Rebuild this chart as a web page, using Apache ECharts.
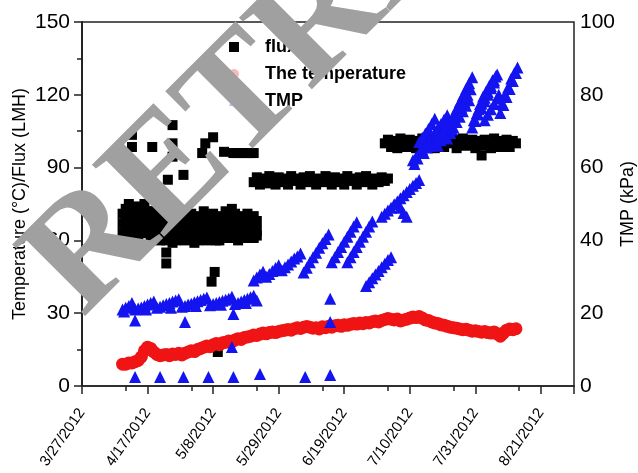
<!DOCTYPE html>
<html>
<head>
<meta charset="utf-8">
<script src="https://cdn.jsdelivr.net/npm/echarts@6/dist/echarts.min.js"></script>
<style>
  html, body { margin: 0; padding: 0; background: #fff; }
  #chart { width: 638px; height: 473px; }
</style>
</head>
<body>
<div id="chart"></div>
<script>
// x values are days counted from 3/27/2012
const tickLabels = ['3/27/2012', '4/17/2012', '5/8/2012', '5/29/2012', '6/19/2012', '7/10/2012', '7/31/2012', '8/21/2012']
const minorTickDays = [14, 35, 56, 77, 98, 119, 140]

// flux (LMH), left axis
const fluxPoints = [
  [13,71],[13,67],[13,63],[14,73],[14,68],[14,64],[15,75],[15,69],[15,65],[16,72],[16,67],[16,62],
  [17,74],[17,68],[17,64],[18,71],[18,66],[18,62],[19,73],[19,68],[19,63],[20,75],[20,69],[20,64],
  [21,72],[21,67],[21,63],[22,70],[22,65],[22,61],[23,72],[23,68],[23,64],[24,71],[24,66],[24,62],
  [25,69],[25,65],[25,60],[26,72],[26,67],[26,63],
  [27,68],[27,64],[27,60],[28,71],[28,66],[28,62],[29,69],[29,64],[29,59],[30,68],[30,63],[30,60],
  [31,70],[31,65],[31,61],[32,72],[32,66],[32,62],[33,68],[33,64],[33,60],[34,69],[34,65],[34,61],
  [35,71],[35,66],[35,62],[36,68],[36,63],[36,59],[37,67],[37,64],[37,60],[38,70],[38,65],[38,61],
  [39,72],[39,66],[39,62],[40,69],[40,64],[40,60],[41,70],[41,65],[41,61],[42,71],[42,66],[42,62],
  [43,68],[43,64],[43,60],[44,67],[44,63],[44,60],[45,70],[45,65],[45,61],[46,72],[46,66],[46,62],
  [47,68],[47,64],[47,61],[48,69],[48,65],[48,61],[49,71],[49,66],[49,62],[50,68],[50,64],[50,60],
  [51,67],[51,63],[51,61],[52,70],[52,65],[52,62],[53,71],[53,66],[53,62],[54,69],[54,64],[54,61],
  [55,70],[55,65],[55,61],[56,68],[56,64],[56,62],
  // scattered readings
  [16,103.5],[16,98.5],[22.5,98.5],[29,107.5],[29,100],[29,94.5],[32.5,87],[27.5,85],[38.5,96],
  [39.5,100],[42,102.5],[45.5,96.5],[48,73],[27,55],[27,50.5],[41.5,43],[42.5,47],[43.5,14],
  [48.5,96],[49.5,96],[50.5,96],[51.5,96],[52.5,96],[53.5,96],[54.5,96],[55,96],
  // 5/22 - 7/3
  [55,84],[56,86],[57,83],[58,85.5],[59,83.5],[60,86.5],[61,84.5],[62,83],[63,86],[64,84],
  [65,85.5],[66,83],[67,86.5],[68,84.5],[69,85.5],[70,83],[71,86],[72,84],[73,86.5],[74,84.5],
  [75,83],[76,85.5],[77,84],[78,86.5],[79,84.5],[80,83],[81,86],[82,84],[83,85.5],[84,83],
  [85,86.5],[86,84.5],[87,85.5],[88,83],[89,86],[90,84],[91,86.5],[92,84.5],[93,83],[94,85.5],
  [95,84],[96,86],[97,84.5],[98,85.5],
  // 7/2 - 8/13
  [97,100],[98,101.5],[99,98.5],[100,101],[101,98],[102,102],[103,100],[104,98.5],[105,101.5],
  [106,100],[107,98],[108,101],[109,102],[110,99],[111,100.5],[112,101.5],[113,98],[114,100],
  [115,102],[116,98.5],[117,101],[118,100],[119,101.5],[120,98],[121,100],[122,102],[123,99],
  [124,100.5],[125,101.5],[126,98],[127,101],[128,99],[129,101.5],[130,100],[131,98],[132,102],
  [133,100],[134,98.5],[135,101],[136,101.5],[137,98.5],[138,101],[139,100],[128,95]
]

// temperature (°C), left axis
const tempPoints = [
  [13,9],[14,9],[15,9.5],[16,9.5],[17,10],[18,10.5],[19,12],[20,14.5],[21,16],[22,15.5],
  [23,14],[24,13],[25,12.5],[26,12.8],[27,13],[28,12.5],[29,13.2],[30,13],[31,13.5],[32,12.8],
  [33,13.5],[34,14],[35,14.5],[36,14.2],[37,15],[38,15.5],[39,16],[40,16.5],[41,16.2],[42,17],
  [43,17.5],[44,17],[45,17.8],[46,18],[47,18.5],[48,18.2],[49,19],[50,19.5],[51,19.2],[52,20],
  [53,20.2],[54,20.5],[55,21],[56,20.8],[57,21.4],[58,21.8],[59,21.5],[60,22],[61,22.3],[62,22],
  [63,22.5],[64,22.8],[65,23],[66,23.3],[67,23],[68,23.6],[69,24],[70,23.7],[71,24.2],[72,24.5],
  [73,24.2],[74,23.8],[75,24],[76,23.5],[77,24.4],[78,24],[79,24.6],[80,24.2],[81,24.8],[82,25],
  [83,24.6],[84,25.2],[85,25],[86,25.4],[87,25.8],[88,25.5],[89,26],[90,25.7],[91,26.2],[92,26],
  [93,26.5],[94,26.8],[95,26.4],[96,27],[97,27.4],[98,27.8],[99,27.5],[100,27.2],[101,27.6],[102,26.8],
  [103,27.2],[104,27.5],[105,28],[106,28.4],[107,28.2],[108,28.6],[109,28],[110,27.2],[111,27],[112,26.4],
  [113,26],[114,25.8],[115,25.2],[116,25],[117,24.6],[118,24.2],[119,24],[120,23.8],[121,23.5],[122,23.2],
  [123,23.4],[124,23],[125,22.6],[126,22.8],[127,22.5],[128,22.2],[129,22.5],[130,22],[131,21.8],[132,22.3],
  [133,21.5],[134,20.5],[135,21.8],[136,23],[137,23.5],[138,23.2],[139,23.6]
]

// TMP (kPa), right axis
const tmpPoints = [
  [13,21],[13.5,20.5],[14,21.5],[15,22],[16,22.8],[17,21],[18,21.3],[19,21.6],[20,22],[20.5,21],
  [21,22.4],[22,22.8],[23,23.2],[24,21.5],[25,21.8],[26,22.2],[27,22.5],[28,22.8],[28.5,21.5],[29,23.2],
  [30,23.5],[31,23.8],[32,21.8],[33,22],[34,22.4],[35,22.6],[36,23],[36.5,22],[37,23.3],[38,23.6],
  [39,24],[40,24.3],[41,22.2],[42,22.5],[43,22.8],[44,23.1],[44.5,22.3],[45,23.4],[46,23.7],[47,24],
  [48,24.5],[49,22.5],[50,22.8],[51,23.2],[52,23.6],[52.5,22.8],[53,24],[54,24.4],[55,24.8],[56,23.5],
  // scattered readings
  [17,18],[33,17.6],[48.5,19.8],[48,10.7],[17,2.5],[25,2.5],[32.5,2.5],[40.5,2.5],[48.5,2.5],
  [57,3.3],[71.5,2.5],[79.5,3],[79.5,24],[79.5,17.6],
  // 5/22 - 7/3
  [55,29],[56,29.8],[57,30.6],[58,31.4],[59,30],[60,30.8],[61,31.6],[62,32.4],[63,33.2],[64,31.8],
  [65,32.6],[66,33.4],[67,34.2],[68,35],[69,35.6],[70,36.4],[71,31.2],[72,32.5],[73,34],[74,35.4],
  [75,36.6],[76,38],[77,39.2],[78,40.4],[79,41.6],[80,34],[81,35.4],[82,36.8],[83,38.2],[84,39.6],
  [85,41],[86,42.4],[87,43.8],[88,45],
  [85,34],[86,35.4],[87,36.8],[88,38.2],[89,39.6],[90,41],[91,42.4],[92,43.8],[93,45.2],
  [91,27.5],[92,28.5],[93,29.6],[94,30.6],[95,31.6],[96,32.6],[97,33.6],[98,34.6],[99,35.4],
  // 7/2 - 8/13
  [96,46.5],[97,47.3],[98,48.2],[99,49],[100,49.9],[101,50.7],[102,51.6],[103,52.4],[104,53.3],
  [105,54.1],[106,55],[107,55.8],[108,56.6],[102,49],[103,47.5],[104,46.5],
  [106,62],[107,63],[108,64],[109,65],[110,66],[111,67.2],[112,68.4],[113,69.6],[114,70.8],
  [115,72],[116,73.2],[117,74.4],
  [108,67],[109,68.2],[110,69.4],[111,70.6],[112,72],[113,73.4],
  [114,66],[115,67.5],[116,69],[117,70.8],[118,72.6],[119,74.4],[120,76.2],[121,78],[122,79.8],
  [123,81.6],[124,83.2],[125,84.8],
  [117,68],[118,69.5],[119,71],[120,72.5],[121,74],[122,75.5],[123,77],[124,78.5],
  [125,71],[126,72.8],[127,74.6],[128,76.4],[129,78.2],[130,80],[131,81.8],[132,83.4],
  [127,76],[128,77.6],[129,79.2],[130,80.8],[131,82.4],[132,84],[133,85.6],
  [129,73],[130,74.5],[131,76],[132,77.5],[133,79],
  [134,75],[135,77.2],[136,79.4],[137,81.6],[138,83.8],[139,86],[139.5,87.5],
  [106.5,61],[107.5,62.5],[109.5,64],[110.5,65.5],[111.5,66],[112.5,67],[113.5,68],[114.5,68.5],
  [115.5,70],[116.5,71.5],[118.5,70.5],[119.5,72.5],[120.5,74.5],[121.5,76.5],[122.5,78],[123.5,80],
  [124.5,81.5],[125.5,73],[126.5,75],[127.5,77.5],[128.5,79.5],[129.5,81],[130.5,82.5],[131.5,84],
  [132.5,85],[133.5,80],[134.5,77.5],[135.5,80],[136.5,82],[137.5,84.5],[138.5,86]
]

const font = 'Liberation Sans'
const axisColor = '#222'

const chart = echarts.init(document.getElementById('chart'))
const option = {
  animation: false,
  backgroundColor: '#fff',
  grid: {
    left: 82, right: 64, top: 22, bottom: 87,
    show: true, borderColor: axisColor, borderWidth: 1.5,
    containLabel: false, outerBoundsMode: 'none'
  },
  legend: {
    orient: 'vertical',
    left: 224,
    top: 33,
    itemWidth: 10,
    itemHeight: 10,
    itemGap: 9,
    selectedMode: false,
    textStyle: { fontSize: 18, fontWeight: 'bold', color: '#000', fontFamily: font, padding: [0, 0, 0, 21] },
    data: [
      { name: 'flux' },
      { name: 'The temperature', itemStyle: { opacity: 0.3 } },
      { name: 'TMP', itemStyle: { opacity: 0.3 } }
    ]
  },
  xAxis: [
    {
      type: 'value', min: 0, max: 157.6, interval: 21, position: 'bottom',
      axisLine: { show: true, onZero: false, lineStyle: { color: axisColor, width: 1.5 } },
      axisTick: { show: true, length: 8, lineStyle: { color: axisColor, width: 1.5 } },
      axisLabel: {
        rotate: 55, margin: 24, fontSize: 15, color: '#000', fontFamily: font,
        formatter: v => tickLabels[v / 21] || ''
      },
      splitLine: { show: false }
    },
    {
      // extra short ticks one week before each date tick
      type: 'value', min: 0, max: 157.6, position: 'bottom',
      axisLine: { show: false },
      axisTick: { show: true, length: 5, customValues: minorTickDays, lineStyle: { color: axisColor, width: 1.5 } },
      axisLabel: { show: false },
      splitLine: { show: false }
    }
  ],
  yAxis: [
    {
      type: 'value', min: 0, max: 150, interval: 30, position: 'left',
      name: 'Temperature (°C)/Flux (LMH)', nameLocation: 'middle', nameGap: 53, nameRotate: 90,
      nameMoveOverlap: false,
      nameTextStyle: { fontSize: 18, color: '#000', fontFamily: font },
      axisLine: { show: true, lineStyle: { color: axisColor, width: 1.5 } },
      axisTick: { show: true, length: 8, lineStyle: { color: axisColor, width: 1.5 } },
      minorTick: { show: true, splitNumber: 2, length: 4, lineStyle: { color: axisColor, width: 1.5 } },
      axisLabel: { fontSize: 21, color: '#000', fontFamily: font, margin: 12 },
      splitLine: { show: false }
    },
    {
      type: 'value', min: 0, max: 100, interval: 20, position: 'right',
      name: 'TMP (kPa)', nameLocation: 'middle', nameGap: 45, nameRotate: 90,
      nameMoveOverlap: false,
      nameTextStyle: { fontSize: 18, color: '#000', fontFamily: font },
      axisLine: { show: true, lineStyle: { color: axisColor, width: 1.5 } },
      axisTick: { show: true, inside: true, length: 7, lineStyle: { color: axisColor, width: 1.5 } },
      minorTick: { show: true, splitNumber: 2, length: 5, lineStyle: { color: axisColor, width: 1.5 } },
      axisLabel: { fontSize: 21, color: '#000', fontFamily: font, margin: 6 },
      splitLine: { show: false }
    }
  ],
  series: [
    {
      name: 'flux', type: 'scatter', symbol: 'rect', symbolSize: 10,
      itemStyle: { color: '#000', opacity: 1 },
      data: fluxPoints
    },
    {
      name: 'The temperature', type: 'scatter', symbol: 'circle', symbolSize: 13,
      itemStyle: { color: '#f01414', opacity: 1 },
      data: tempPoints
    },
    {
      name: 'TMP', type: 'scatter', symbol: 'triangle', symbolSize: 12, yAxisIndex: 1,
      itemStyle: { color: '#1414f0', opacity: 1 },
      data: tmpPoints
    }
  ],
  // "RETRACTED" stamp over the figure
  graphic: [
    {
      type: 'text', x: 54, y: 290, rotation: Math.PI / 4, z: 100, silent: true,
      style: {
        text: 'RETRACTED',
        font: 'bold 156px "Liberation Serif"',
        fill: '#a0a0a0',
        textVerticalAlign: 'middle'
      }
    }
  ]
}
chart.setOption(option)
</script>
</body>
</html>
